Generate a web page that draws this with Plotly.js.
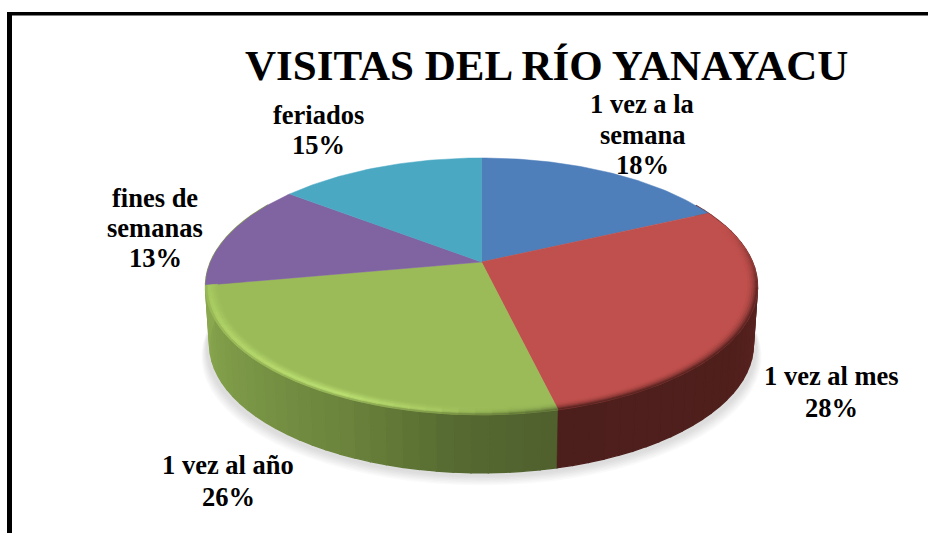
<!DOCTYPE html>
<html><head><meta charset="utf-8">
<script src="https://cdn.plot.ly/plotly-3.0.1.min.js"></script>
<style>html,body{margin:0;padding:0;background:#fff}#c{width:928px;height:533px}</style>
</head><body><div id="c"></div>
<script>
const categories = ["1 vez a la semana","1 vez al mes","1 vez al año","fines de semanas","feriados"];
const values = [18,28.3,25.8,13.4,14.5];
const topColors = ["#4f7fbb","#c0504d","#9bbb59","#8064a2","#4aa8c3"];
const titleText = "VISITAS DEL RÍO YANAYACU";
const labelLines = [["1 vez a la","semana"],["1 vez al mes"],["1 vez al año"],["fines de","semanas"],["feriados"]];
const labelAnchors = [[642,104],[831,376],[228,465],[155,198],[318,115]];

// perspective disc geometry
const CX=481.5,CY=262,A=271,B=123.8,K=0.19,DEPTH=58,SHRINK=0.985;
function P(deg,r){const t=deg*Math.PI/180,u=r*Math.sin(t),v=r*Math.cos(t),w=1+K*v;
  return [CX+A*u/w,CY-B*v/w];}
function Q(deg){const p=P(deg,1);return [CX+(p[0]-CX)*SHRINK,p[1]+DEPTH];}
const hex=c=>[1,3,5].map(i=>parseInt(c.substr(i,2),16));
const mix=(a,b,t)=>{t=Math.max(0,Math.min(1,t));const x=hex(a),y=hex(b);return '#'+x.map((v,i)=>Math.round(v+(y[i]-v)*t).toString(16).padStart(2,'0')).join('');};
function ramp(stops,d){if(d<=stops[0][0])return stops[0][1];
  for(let i=1;i<stops.length;i++)if(d<=stops[i][0]){const s=stops[i-1],e=stops[i];return mix(s[1],e[1],(d-s[0])/(e[0]-s[0]));}
  return stops[stops.length-1][1];}
const redSide=[[70,"#6f2c29"],[100,"#5c2421"],[125,"#4f1f1c"],[170,"#4d1f1c"]];
const greenSide=[[165,"#4f5f2e"],[185,"#566a31"],[205,"#6b843c"],[230,"#7a9646"],[260,"#8aa84f"],[300,"#8aa84f"]];
const greenHi=[[165,"#9bbb59"],[182,"#a2c35e"],[205,"#c2e676"],[235,"#b6d96c"],[262,"#a6c95f"]];

const traces=[];
function poly(pts,color,opacity,lw){
  traces.push({type:'scatter',mode:'lines',x:pts.map(p=>p[0]).concat(pts[0][0]),y:pts.map(p=>p[1]).concat(pts[0][1]),
    fill:'toself',fillcolor:color,line:{color:lw?color:'rgba(0,0,0,0)',width:lw||0},opacity:opacity==null?1:opacity,hoverinfo:'skip',showlegend:false});
}
const total=values.reduce((a,b)=>a+b,0);
let cum=0;const bounds=values.map(v=>{const s=cum;cum+=v;return [s/total*360,cum/total*360];});
const redEnd=bounds[1][1], greenEnd=bounds[2][1];
// soft shadow
for(let s=0;s<7;s++){
  const pts=[];for(let d=60;d<=300;d+=4){const q=Q(d);pts.push([CX+(q[0]-CX)*(1.012+s*0.003),q[1]+4+s*1.4]);}
  pts.push(P(0,1));
  poly(pts,'rgb(120,120,120)',0.035,0);
}
// side wall, slice by slice, split at the slice boundary
function strips(from,to,n){const o=[];for(let i=0;i<n;i++)o.push([from+(to-from)*i/n,from+(to-from)*(i+1)/n]);return o;}
strips(60,redEnd,36).forEach(s=>{const m=(s[0]+s[1])/2;poly([P(s[0],1),P(s[1],1),Q(s[1]),Q(s[0])],ramp(redSide,m),1,1.4);});
strips(redEnd,300,44).forEach(s=>{const m=(s[0]+s[1])/2;poly([P(s[0],1),P(s[1],1),Q(s[1]),Q(s[0])],ramp(greenSide,m),1,1.4);});
// clean vertical seam between red and green walls
poly([P(redEnd-0.6,1),P(redEnd,1),Q(redEnd),Q(redEnd-0.6)],ramp(redSide,redEnd),1,0.5);
// disc
bounds.forEach((b,i)=>{
  const pts=[[CX,CY]];for(let d=b[0];d<b[1];d+=1)pts.push(P(d,1));pts.push(P(b[1],1));
  traces.push({type:'scatter',mode:'lines',x:pts.map(p=>p[0]).concat(CX),y:pts.map(p=>p[1]).concat(CY),fill:'toself',fillcolor:topColors[i],
    line:{color:topColors[i],width:0.5},name:categories[i],text:categories[i],hoverinfo:'text',showlegend:false});
});
// bevelled rim
const R=[0.958,0.966,0.974,0.981,0.988,0.994,1.0];
const nL=R.length-1;
strips(72,redEnd,32).forEach(s=>{
  const m=(s[0]+s[1])/2,fade=Math.min(1,(m-72)/30),side=ramp(redSide,m);
  for(let j=0;j<nL;j++){const t=(j+0.5)/nL;
    poly([P(s[0],R[j]),P(s[1],R[j]),P(s[1],R[j+1]),P(s[0],R[j+1])],mix(topColors[1],side,fade*t*t*1.05),1,0.6);}
});
strips(redEnd,greenEnd,32).forEach(s=>{
  const m=(s[0]+s[1])/2,hi=ramp(greenHi,m),side=ramp(greenSide,m);
  const dark=Math.max(0,(188-m)/22);
  for(let j=0;j<nL;j++){const t=(j+0.5)/nL;
    let col=t<0.7?mix(topColors[2],hi,t/0.7):mix(hi,side,(t-0.7)/0.3*0.7);
    col=mix(col,mix(topColors[2],side,t*t),dark);
    poly([P(s[0],R[j]),P(s[1],R[j]),P(s[1],R[j+1]),P(s[0],R[j+1])],col,1,0.6);}
});
// labels
const ann=[{text:titleText,x:546,y:65,size:43}];
const LH=[30.5,32,32,30,30];
values.forEach((v,i)=>{
  const lines=labelLines[i].concat(Math.round(v)+'%');
  lines.forEach((t,j)=>ann.push({text:t,x:labelAnchors[i][0],y:labelAnchors[i][1]+j*LH[i],size:26.5}));
});
const annotations=ann.map(a=>({xref:'x',yref:'y',x:a.x,y:a.y,text:'<b>'+a.text+'</b>',showarrow:false,xanchor:'center',yanchor:'middle',
  font:{family:'"Liberation Serif",serif',color:'#000',size:a.size}}));
const frame=[
 {type:'rect',xref:'x',yref:'y',x0:7,x1:928,y0:12,y1:15.5,fillcolor:'#000',line:{width:0}},
 {type:'rect',xref:'x',yref:'y',x0:7,x1:12,y0:12,y1:533,fillcolor:'#000',line:{width:0}}
];
Plotly.newPlot('c',traces,{
  width:928,height:533,margin:{l:0,r:0,t:0,b:0},paper_bgcolor:'#fff',plot_bgcolor:'#fff',showlegend:false,
  xaxis:{range:[0,928],visible:false,fixedrange:true},
  yaxis:{range:[533,0],visible:false,fixedrange:true},
  annotations,shapes:frame
},{displayModeBar:false,staticPlot:true});
</script></body></html>
